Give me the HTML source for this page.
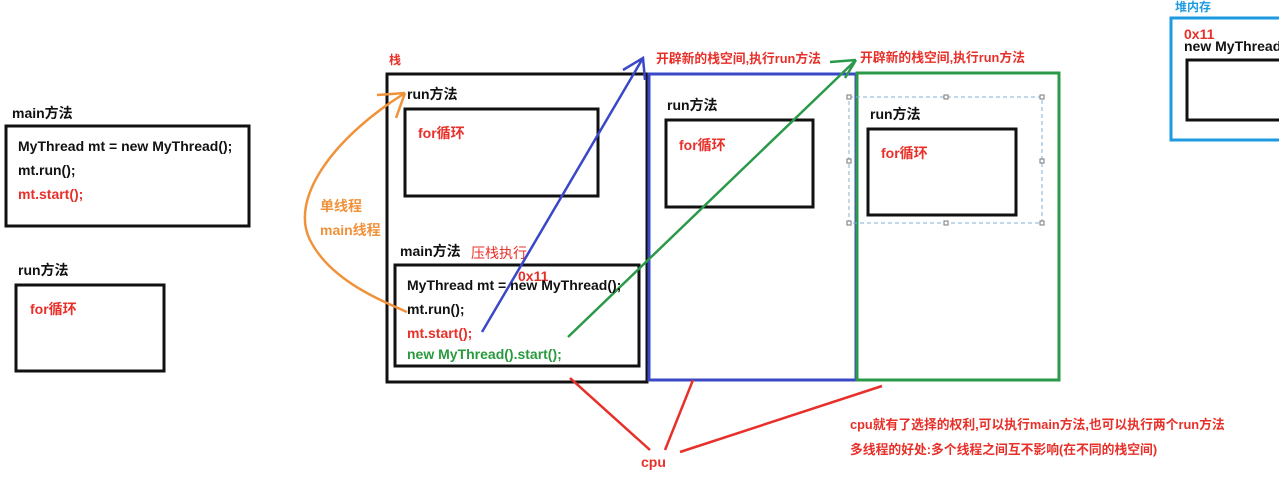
<!DOCTYPE html><html><head><meta charset="utf-8"><style>
body{margin:0;background:#fff;width:1279px;height:472px;overflow:hidden}
text{font-family:"Liberation Sans","Noto Sans CJK SC",sans-serif;font-weight:bold;font-size:13px}
.c{font-size:14px}
.r{fill:#e8302a}.k{fill:#111}.o{fill:#f0923a}.g{fill:#2a9a3e}
</style></head><body>
<svg width="1279" height="472" xmlns="http://www.w3.org/2000/svg">
<g fill="none" stroke="#111" stroke-width="3">
<rect x="6" y="126" width="243" height="100"/>
<rect x="16" y="285" width="148" height="86"/>
<rect x="387" y="74" width="260" height="308"/>
<rect x="405" y="109" width="193" height="87"/>
<rect x="395" y="265" width="244" height="101"/>
<rect x="666" y="120" width="147" height="87"/>
<rect x="868" y="129" width="148" height="86"/>
<rect x="1187" y="60" width="100" height="60"/>
</g>
<rect x="649" y="74" width="207" height="306" fill="none" stroke="#3a48c8" stroke-width="3"/>
<rect x="857" y="73" width="202" height="307" fill="none" stroke="#2a9a4a" stroke-width="3"/>
<rect x="1171" y="18" width="120" height="122" fill="none" stroke="#1e9be0" stroke-width="3"/>
<rect x="849" y="97" width="193" height="126" fill="none" stroke="#7fb0d8" stroke-width="1" stroke-dasharray="4,3"/>
<g fill="#fff" stroke="#777" stroke-width="1">
<rect x="847" y="95" width="4" height="4"/><rect x="944" y="95" width="4" height="4"/><rect x="1040" y="95" width="4" height="4"/>
<rect x="847" y="159" width="4" height="4"/><rect x="1040" y="159" width="4" height="4"/>
<rect x="847" y="221" width="4" height="4"/><rect x="944" y="221" width="4" height="4"/><rect x="1040" y="221" width="4" height="4"/>
</g>
<path d="M405,93 C330,140 290,200 310,240 C330,280 380,300 407,312" fill="none" stroke="#f0923a" stroke-width="2.5"/>
<path d="M377,95 L405,93 M396,118 L405,93" fill="none" stroke="#f0923a" stroke-width="2.5"/>
<path d="M482,332 L643,58 M623,70 L643,58 L645,80" fill="none" stroke="#3a48c8" stroke-width="2.5"/>
<path d="M568,337 L856,60 M830,62 L856,60 M845,78 L856,60" fill="none" stroke="#2a9a4a" stroke-width="2.5"/>
<path d="M650,450 L570,378 M665,450 L693,380 M680,452 L882,386" fill="none" stroke="#e8302a" stroke-width="2.5"/>
<text x="12" y="118" class="k c">main方法</text>
<text x="18" y="151" class="k c">MyThread mt = new MyThread();</text>
<text x="18" y="175" class="k c">mt.run();</text>
<text x="18" y="199" class="r c">mt.start();</text>
<text x="18" y="275" class="k c">run方法</text>
<text x="30" y="314" class="r c">for循环</text>
<text x="320" y="211" class="o c">单线程</text>
<text x="320" y="235" class="o c">main线程</text>
<text x="389" y="64" class="r" style="font-size:12px">栈</text>
<text x="407" y="99" class="k c">run方法</text>
<text x="418" y="138" class="r c">for循环</text>
<text x="400" y="256" class="k c">main方法</text>
<text x="471" y="258" class="r c" style="font-weight:normal">压栈执行</text>
<text x="518" y="281" class="r c">0x11</text>
<text x="407" y="290" class="k c">MyThread mt = new MyThread();</text>
<text x="407" y="314" class="k c">mt.run();</text>
<text x="407" y="338" class="r c">mt.start();</text>
<text x="407" y="359" class="g c">new MyThread().start();</text>
<text x="656" y="63" class="r" style="font-size:12.8px">开辟新的栈空间,执行run方法</text>
<text x="860" y="62" class="r" style="font-size:12.8px">开辟新的栈空间,执行run方法</text>
<text x="667" y="110" class="k c">run方法</text>
<text x="679" y="150" class="r c">for循环</text>
<text x="870" y="119" class="k c">run方法</text>
<text x="881" y="158" class="r c">for循环</text>
<text x="1175" y="11" style="fill:#1e9be0;font-size:12px">堆内存</text>
<text x="1184" y="39" class="r c">0x11</text>
<text x="1184" y="51" class="k c">new MyThread</text>
<text x="641" y="467" class="r c">cpu</text>
<text x="850" y="429" class="r" style="font-size:12.8px">cpu就有了选择的权利,可以执行main方法,也可以执行两个run方法</text>
<text x="850" y="454" class="r" style="font-size:12.8px">多线程的好处:多个线程之间互不影响(在不同的栈空间)</text>
</svg>
</body></html>
